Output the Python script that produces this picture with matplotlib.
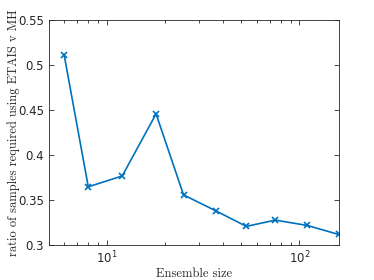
import matplotlib
matplotlib.use("Agg")
import matplotlib.pyplot as plt
from matplotlib.ticker import FuncFormatter, LogLocator

ensemble_size = [6, 8, 12, 18, 25, 37, 53, 75, 110, 160]
ratio = [0.511, 0.365, 0.377, 0.446, 0.356, 0.338, 0.321, 0.328, 0.322, 0.312]
yticks = [0.3, 0.35, 0.4, 0.45, 0.5, 0.55]

fig = plt.figure(figsize=(3.74, 2.80), dpi=100)
ax = fig.add_axes([0.131, 0.124, 0.7746, 0.8035])
ax.plot(ensemble_size, ratio, color="#0072BD", marker="x", markersize=4,
        linewidth=1.2, markeredgewidth=1.2)
ax.set_xscale("log")
ax.set_xlim(5, 160)
ax.set_ylim(0.3, 0.55)
ax.set_yticks(yticks)
ax.yaxis.set_major_formatter(FuncFormatter(lambda v, p: "%g" % v))
ax.xaxis.set_major_locator(LogLocator(base=10))
ax.xaxis.set_minor_locator(LogLocator(base=10, subs=range(2, 10)))
ax.xaxis.set_minor_formatter(plt.NullFormatter())

ax.tick_params(which="both", direction="in", top=True, right=True,
               colors="#262626", labelsize=8.5, width=0.6)
ax.tick_params(which="major", length=3.5)
ax.tick_params(which="minor", length=2)
for s in ax.spines.values():
    s.set_color("#262626")
    s.set_linewidth(0.6)

ax.set_xlabel("Ensemble size", fontfamily="cmr10", fontsize=9, color="#262626", labelpad=0.5)
ax.set_ylabel("ratio of samples required using ETAIS v MH", fontfamily="cmr10",
              fontsize=9, color="#262626", labelpad=-1)

fig.savefig("out.png", dpi=100)
